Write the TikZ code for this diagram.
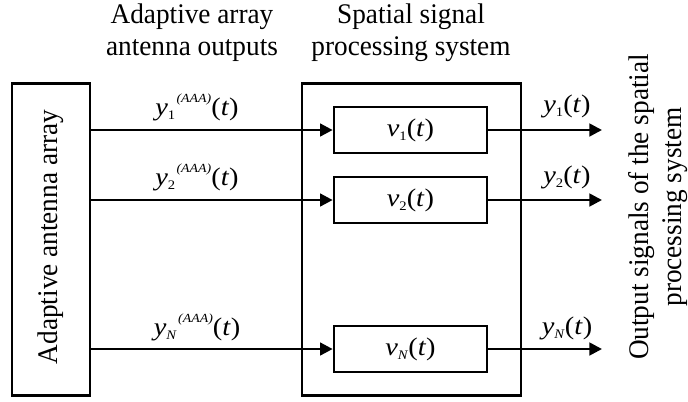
\documentclass[tikz,border=0pt]{standalone}
\usepackage{fontspec}
\setmainfont[FakeStretch=0.96]{Liberation Serif}
\newfontfamily\symfont[FakeStretch=1.12]{Liberation Serif}
\usetikzlibrary{arrows.meta}

% signal symbols with staggered sub- and superscripts
\newcommand{\subtxt}[1]{\raisebox{-0.4ex}{\fontsize{9.8pt}{9.8pt}\selectfont #1}}
\newcommand{\suptxt}[1]{\raisebox{1.05ex}{\fontsize{9.3pt}{9.3pt}\selectfont\textit{#1}}}
\newcommand{\symtxt}{\symfont\fontsize{19pt}{22pt}\selectfont}
\newcommand{\sigAAA}[1]{{\symtxt\textit{y}\subtxt{#1}\hspace{1pt}\suptxt{(AAA)}(\textit{t})}}
\newcommand{\sigout}[1]{{\symtxt\textit{y}\subtxt{#1}(\textit{t})}}
\newcommand{\filt}[1]{{\symtxt\textit{v}\subtxt{#1}(\textit{t})}}

\tikzset{
  blk/.style={draw, line width=2pt, inner sep=0pt},
  arr/.style={line width=2pt, -{Triangle[length=9.5pt,width=9.5pt]}},
  lbl/.style={inner sep=0pt, anchor=base},
}

\begin{document}
\begin{tikzpicture}[x=0.75pt, y=-0.75pt, font=\fontsize{21.3pt}{24pt}\selectfont]
\useasboundingbox (0,0) rectangle (688,401);

% antenna array block
\node[blk, minimum width=58.5pt, minimum height=234pt] (aa) at (51,239.5) {};
\node[rotate=90, inner sep=0pt] (aatxt) at (51,237) {Adaptive antenna array};

% spatial processing system with its filters
\node[blk, minimum width=164.25pt, minimum height=234pt] (sps) at (411.5,239.5) {};
\node[blk, minimum width=114.75pt, minimum height=34.5pt] (f1) at (410.5,130) {\filt{1}};
\node[blk, minimum width=114.75pt, minimum height=34.5pt] (f2) at (410.5,200) {\filt{2}};
\node[blk, minimum width=114.75pt, minimum height=34.5pt] (fN) at (410.5,349) {\filt{\textit{N}}};

% free ends of the output arrows
\coordinate (outx) at (602,0);

% input connectors
\draw[arr] (aa.east |- f1.west) -- (f1.west);
\draw[arr] (aa.east |- f2.west) -- (f2.west);
\draw[arr] (aa.east |- fN.west) -- (fN.west);

% output connectors
\draw[arr] (f1.east) -- (f1.east -| outx);
\draw[arr] (f2.east) -- (f2.east -| outx);
\draw[arr] (fN.east) -- (fN.east -| outx);

% connector labels
\node[lbl] (in1) at (197,115) {\sigAAA{1}};
\node[lbl] (in2) at (197,185) {\sigAAA{2}};
\node[lbl] (inN) at (197,335) {\sigAAA{\textit{N}}};
\node[lbl] (out1) at (567,112) {\sigout{1}};
\node[lbl] (out2) at (567,183) {\sigout{2}};
\node[lbl] (outN) at (567,334) {\sigout{\textit{N}}};

% headings
\node[align=center, inner sep=0pt] (h1) at (192,32.5) {Adaptive array\\antenna outputs};
\node[align=center, inner sep=0pt] (h2) at (411,32.5) {Spatial signal\\processing system};
\node[rotate=90, align=center, inner sep=0pt, font=\fontsize{21.3pt}{25pt}\selectfont] (h3) at (658,207) {Output signals of the spatial\\processing system};
\end{tikzpicture}
\end{document}
